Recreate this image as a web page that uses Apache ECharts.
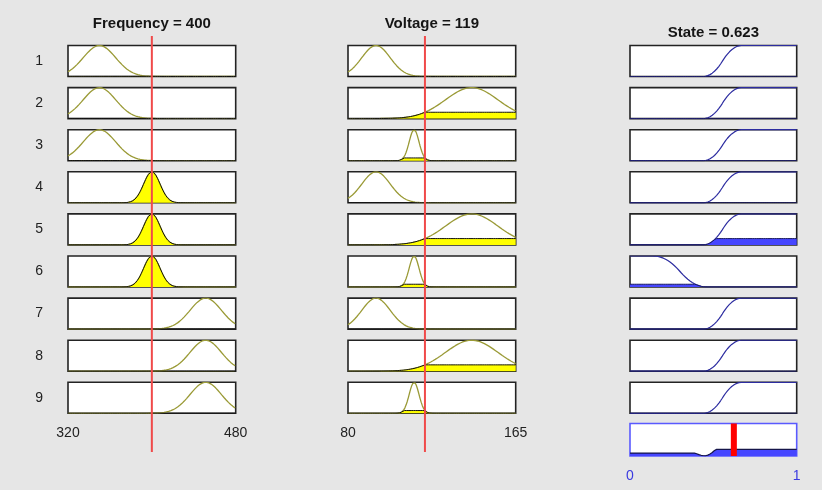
<!DOCTYPE html>
<html>
<head>
<meta charset="utf-8">
<script src="https://cdn.jsdelivr.net/npm/echarts@6/dist/echarts.min.js"></script>
<style>
  html, body { margin: 0; padding: 0; background: #e6e6e6; }
  #chart { width: 822px; height: 490px; }
</style>
</head>
<body>
<div id="chart"></div>
<script>
// ---- Fuzzy system: inputs, membership functions and rules ----
const freqRange = [320, 480];
const voltRange = [80, 165];
const stateRange = [0, 1];

const freqInput = 400;
const voltInput = 119;
const stateOutput = 0.623;

const ruleLabels = ['1', '2', '3', '4', '5', '6', '7', '8', '9'];

// Gaussian input MFs: low, mid, high
const freqMfCenter = [350, 400, 451.4];
const freqMfSigma = [15.5, 7.8, 15];
const voltMfCenter = [94.2, 113.5, 142.7];
const voltMfSigma = [7.2, 2.5, 13.3];

// Output MFs: rising S-curve and falling Z-curve
const stateRiseParams = [0.44, 0.67];
const stateFallParams = [0.14, 0.46];

// Rule table (indices into the MF lists above)
const ruleFreqMf = [0, 0, 0, 1, 1, 1, 2, 2, 2];
const ruleVoltMf = [0, 2, 1, 0, 2, 1, 0, 2, 1];
const ruleStateMf = [0, 0, 0, 0, 0, 1, 0, 0, 0]; // 0 = rise, 1 = fall

// ---- membership function shapes ----
function gaussmf(x, c, s) { return Math.exp(-((x - c) * (x - c)) / (2 * s * s)); }
function smf(x, a, b) {
  if (x <= a) return 0;
  if (x >= b) return 1;
  const m = (a + b) / 2;
  if (x <= m) { const t = (x - a) / (b - a); return 2 * t * t; }
  const t = (x - b) / (b - a); return 1 - 2 * t * t;
}
function zmf(x, a, b) { return 1 - smf(x, a, b); }

function freqMf(i) { return x => gaussmf(x, freqMfCenter[i], freqMfSigma[i]); }
function voltMf(i) { return x => gaussmf(x, voltMfCenter[i], voltMfSigma[i]); }
function stateMf(i) {
  return i === 0 ? x => smf(x, stateRiseParams[0], stateRiseParams[1])
                 : x => zmf(x, stateFallParams[0], stateFallParams[1]);
}

function samples(range, n) {
  const out = [];
  for (let k = 0; k <= n; k++) out.push(range[0] + (range[1] - range[0]) * k / n);
  return out;
}
const N = 300;
const fx = samples(freqRange, N), vx = samples(voltRange, N), sx = samples(stateRange, N);

// ---- layout ----
const colLeft = [68, 348, 630];
const colWidth = [167.7, 167.7, 166.7];
const rowTop0 = 45.5, rowPitch = 42.1, rowHeight = 31;
const aggTop = 423.5, aggHeight = 32.5;

const OLIVE = '#9a9a36', YELLOW = '#ffff00', NAVY = '#2c2ca0', BLUE = '#4646ff';
const FONT = 'Liberation Sans, Arial, Helvetica, sans-serif';

const grid = [], xAxis = [], yAxis = [], series = [];

function addCell(col, row, top, height, range, opts) {
  const gi = grid.length;
  grid.push({
    left: colLeft[col], width: colWidth[col], top: top, height: height,
    show: true, backgroundColor: '#ffffff',
    borderColor: opts.border || '#232323', borderWidth: 1.6
  });
  xAxis.push({
    gridIndex: gi, type: 'value', min: range[0], max: range[1],
    interval: range[1] - range[0],
    show: !!opts.ticks,
    axisLine: { show: false }, axisTick: { show: false }, splitLine: { show: false },
    axisLabel: {
      show: !!opts.ticks, margin: 13, fontSize: 14, fontFamily: FONT,
      color: opts.tickColor || '#222', showMinLabel: true, showMaxLabel: true
    }
  });
  yAxis.push({
    gridIndex: gi, type: 'value', min: 0, max: 1.0,
    show: !!opts.rowName,
    name: opts.rowName || '', nameLocation: 'middle', nameRotate: 0, nameGap: 25,
    nameTextStyle: { fontSize: 14, fontFamily: FONT, color: '#222', padding: [3, 0, 0, 0] },
    axisLine: { show: false }, axisTick: { show: false }, axisLabel: { show: false },
    splitLine: { show: false }
  });
  return gi;
}

function line(gi, data, color, width, z, area) {
  const s = {
    type: 'line', xAxisIndex: gi, yAxisIndex: gi, data: data,
    showSymbol: false, symbol: 'none', silent: true, animation: false, z: z,
    lineStyle: { color: color, width: width }
  };
  if (area) s.areaStyle = { color: area, opacity: 1 };
  return s;
}

const ruleWeights = [];
for (let r = 0; r < 9; r++) {
  const top = rowTop0 + r * rowPitch;
  const fMf = freqMf(ruleFreqMf[r]);
  const vMf = voltMf(ruleVoltMf[r]);
  const sMf = stateMf(ruleStateMf[r]);
  const fDeg = fMf(freqInput);
  const vDeg = vMf(voltInput);
  const w = Math.min(fDeg, vDeg);
  ruleWeights.push(w);
  const last = r === 8;

  // Frequency
  let gi = addCell(0, r, top, rowHeight, freqRange, { rowName: ruleLabels[r], ticks: last });
  series.push(line(gi, fx.map(x => [x, fMf(x)]), OLIVE, 1.3, 2));
  series.push(line(gi, fx.map(x => [x, Math.min(fMf(x), fDeg)]), '#111', 1, 3, YELLOW));

  // Voltage
  gi = addCell(1, r, top, rowHeight, voltRange, { ticks: last });
  series.push(line(gi, vx.map(x => [x, vMf(x)]), OLIVE, 1.3, 2));
  series.push(line(gi, vx.map(x => [x, Math.min(vMf(x), vDeg)]), '#111', 1, 3, YELLOW));

  // State
  gi = addCell(2, r, top, rowHeight, stateRange, {});
  series.push(line(gi, sx.map(x => [x, sMf(x)]), NAVY, 1.2, 2));
  series.push(line(gi, sx.map(x => [x, Math.min(sMf(x), w)]), '#1c1c60', 1, 3, BLUE));
}

// Aggregated output
const aggIdx = addCell(2, 9, aggTop, aggHeight, stateRange,
  { ticks: true, tickColor: '#3a3ae0', border: '#5a5aff' });
series.push(line(aggIdx, sx.map(x => {
  let v = 0;
  for (let r = 0; r < 9; r++) v = Math.max(v, Math.min(stateMf(ruleStateMf[r])(x), ruleWeights[r]));
  return [x, v];
}), '#15154a', 1.2, 3, BLUE));
series.push(line(aggIdx, [[stateOutput, 0], [stateOutput, 1]], '#ff0000', 6, 10));

// Input indicator lines spanning every rule row
function addOverlay(col, range, value) {
  const gi = grid.length;
  grid.push({ left: colLeft[col], width: colWidth[col], top: 36, height: 416, show: false });
  xAxis.push({ gridIndex: gi, type: 'value', min: range[0], max: range[1], show: false });
  yAxis.push({ gridIndex: gi, type: 'value', min: 0, max: 1, show: false });
  series.push(line(gi, [[value, 0], [value, 1]], '#f04a4a', 2, 10));
}
addOverlay(0, freqRange, freqInput);
addOverlay(1, voltRange, voltInput);

const titleStyle = { fontSize: 15, fontWeight: 'bold', fontFamily: FONT, color: '#151515' };
const chart = echarts.init(document.getElementById('chart'), null, { renderer: 'canvas' });
chart.setOption({
  backgroundColor: '#e6e6e6',
  animation: false,
  title: [
    { text: 'Frequency = ' + freqInput, left: colLeft[0] + colWidth[0] / 2, top: 16, textAlign: 'center', textStyle: titleStyle, padding: 0 },
    { text: 'Voltage = ' + voltInput, left: colLeft[1] + colWidth[1] / 2, top: 16, textAlign: 'center', textStyle: titleStyle, padding: 0 },
    { text: 'State = ' + stateOutput, left: colLeft[2] + colWidth[2] / 2, top: 25.5, textAlign: 'center', textStyle: titleStyle, padding: 0 }
  ],
  grid: grid, xAxis: xAxis, yAxis: yAxis, series: series
});
</script>
</body>
</html>
